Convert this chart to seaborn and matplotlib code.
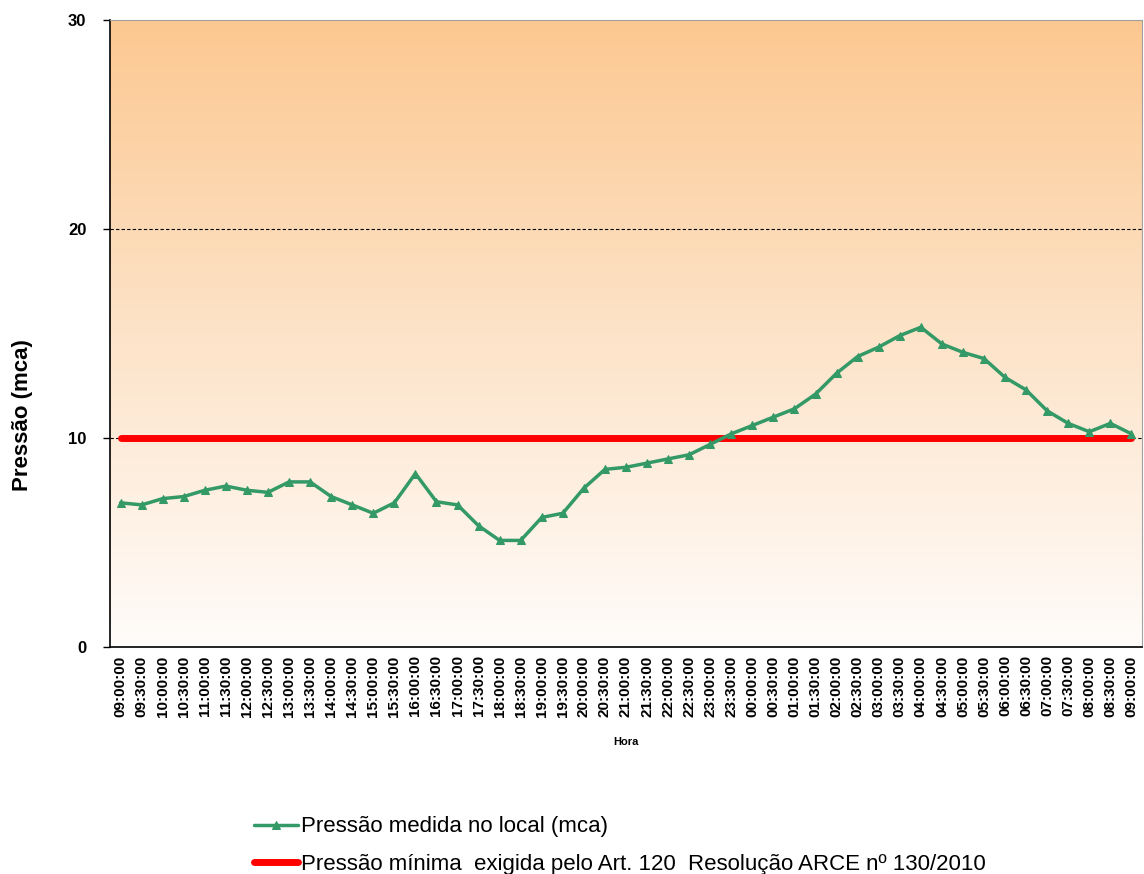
import numpy as np
import pandas as pd
import matplotlib
matplotlib.use("Agg")
import matplotlib.pyplot as plt
import seaborn as sns
from matplotlib.colors import LinearSegmentedColormap

# horários de 09:00:00 até 09:00:00 do dia seguinte, de 30 em 30 min
horas = [
    "09:00:00", "09:30:00", "10:00:00", "10:30:00", "11:00:00", "11:30:00",
    "12:00:00", "12:30:00", "13:00:00", "13:30:00", "14:00:00", "14:30:00",
    "15:00:00", "15:30:00", "16:00:00", "16:30:00", "17:00:00", "17:30:00",
    "18:00:00", "18:30:00", "19:00:00", "19:30:00", "20:00:00", "20:30:00",
    "21:00:00", "21:30:00", "22:00:00", "22:30:00", "23:00:00", "23:30:00",
    "00:00:00", "00:30:00", "01:00:00", "01:30:00", "02:00:00", "02:30:00",
    "03:00:00", "03:30:00", "04:00:00", "04:30:00", "05:00:00", "05:30:00",
    "06:00:00", "06:30:00", "07:00:00", "07:30:00", "08:00:00", "08:30:00",
    "09:00:00",
]

pressao = [
    6.9, 6.8, 7.1, 7.2, 7.5, 7.7, 7.5, 7.4, 7.9, 7.9,
    7.2, 6.8, 6.4, 6.9, 8.3, 6.95, 6.8, 5.8, 5.1, 5.1,
    6.2, 6.4, 7.6, 8.5, 8.6, 8.8, 9.0, 9.2, 9.7, 10.2,
    10.6, 11.0, 11.4, 12.1, 13.1, 13.9, 14.35, 14.9, 15.3, 14.5,
    14.1, 13.8, 12.9, 12.3, 11.3, 10.7, 10.3, 10.7, 10.2,
]

pressao_minima = [10.0] * len(horas)

df = pd.DataFrame({
    "idx": np.arange(len(horas)),
    "hora": horas,
    "pressao": pressao,
    "minima": pressao_minima,
})

sns.set_style("white")
plt.rcParams["font.family"] = ["Liberation Sans", "DejaVu Sans"]
plt.rcParams["text.color"] = "black"
plt.rcParams["axes.labelcolor"] = "black"
plt.rcParams["xtick.color"] = "black"
plt.rcParams["ytick.color"] = "black"

fig = plt.figure(figsize=(11.44, 8.74), dpi=100)
ax = fig.add_axes([0.0962, 0.2597, 0.902, 0.7174])

# Fundo em degradê (laranja em cima, branco em baixo)
cmap = LinearSegmentedColormap.from_list("fundo", ["#fffcfa", "#fde3c8", "#fcc891"])
grad = np.linspace(0, 1, 256).reshape(-1, 1)
ax.imshow(grad, aspect="auto", cmap=cmap, origin="lower",
          extent=[0, 1, 0, 1], transform=ax.transAxes, zorder=0)

# Linhas de grade tracejadas
for yv in [10, 20]:
    ax.axhline(yv, color="black", linestyle=(0, (3, 2)), linewidth=0.8, zorder=1)

sns.lineplot(data=df, x="idx", y="minima", ax=ax, color="#ff0000",
             linewidth=5, label="Pressão mínima  exigida pelo Art. 120  Resolução ARCE nº 130/2010",
             zorder=2)
sns.lineplot(data=df, x="idx", y="pressao", ax=ax, color="#339966",
             linewidth=2.5, marker="^", markersize=6, markeredgecolor="#339966",
             label="Pressão medida no local (mca)", zorder=3)

ax.set_xlim(-0.5, len(horas) - 0.5)
ax.set_ylim(0, 30)
ax.set_yticks([0, 10, 20, 30])
ax.set_yticklabels(["0", "10", "20", "30"], fontsize=12, fontweight="bold")

ax.set_xticks(df["idx"])
ax.set_xticklabels(horas, rotation=90, fontsize=11, fontweight="bold")
ax.set_xticks(np.arange(-0.5, len(horas), 1), minor=True)
ax.tick_params(axis="x", which="major", length=0, pad=6)
ax.tick_params(axis="x", which="minor", length=5, width=1, color="black", direction="out")
ax.tick_params(axis="y", which="major", length=5, width=1, color="black", direction="out",
               left=True, pad=12)

ax.set_xlabel("Hora", fontsize=8, fontweight="bold", labelpad=15)
ax.set_ylabel("Pressão (mca)", fontsize=16, fontweight="bold")
ax.yaxis.set_label_coords(-0.075, 0.37)

for side in ["left", "bottom"]:
    ax.spines[side].set_color("black")
    ax.spines[side].set_linewidth(1.2)
for side in ["top", "right"]:
    ax.spines[side].set_color("#a0a0a0")
    ax.spines[side].set_linewidth(0.8)

# Legenda abaixo do gráfico
handles, labels = ax.get_legend_handles_labels()
ax.get_legend().remove()
fig.legend(handles[::-1], labels[::-1], loc="upper left", bbox_to_anchor=(0.222, 0.066),
           frameon=False, fontsize=16, handlelength=2.0, handletextpad=0.1,
           labelspacing=0.75, borderaxespad=0, borderpad=0)

fig.savefig("out.png", dpi=100)
